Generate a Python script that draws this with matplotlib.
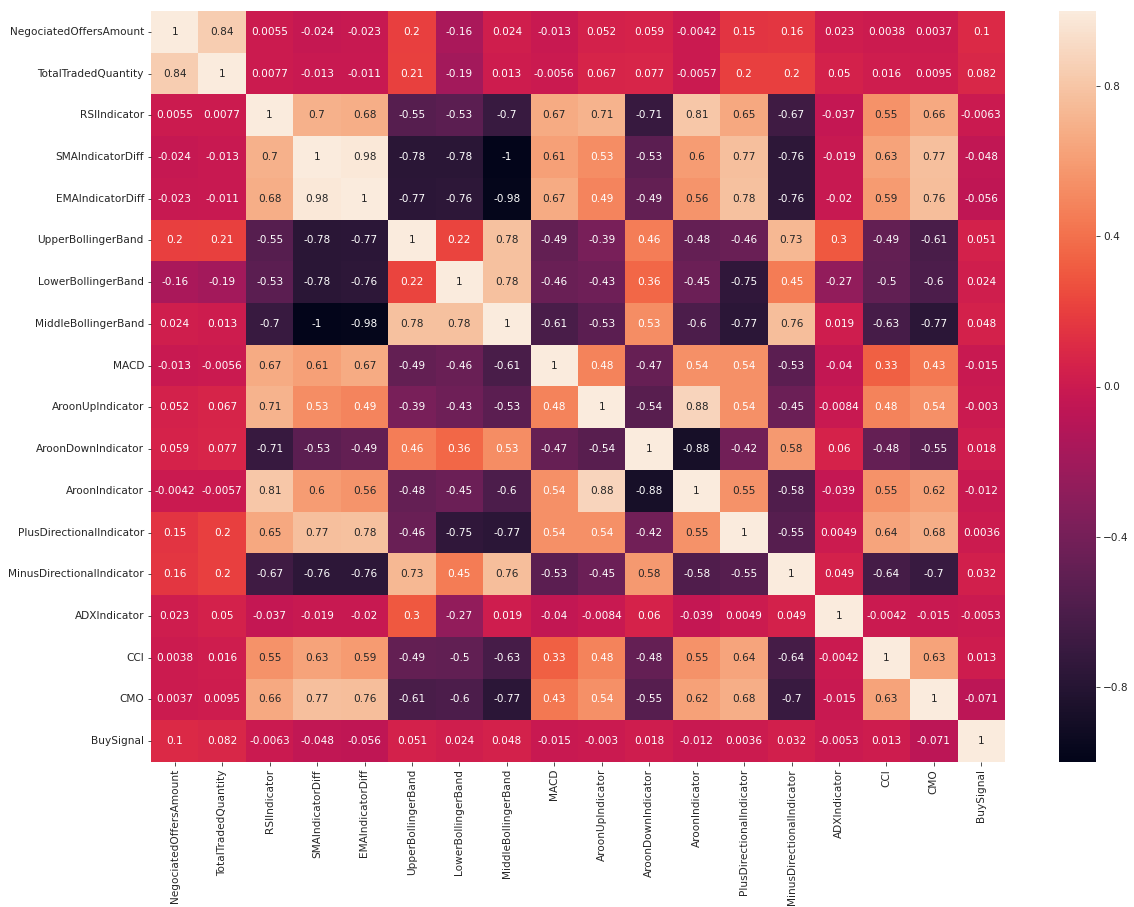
import numpy as np
import pandas as pd
import matplotlib
matplotlib.use("Agg")
import matplotlib.pyplot as plt
import seaborn as sns

features = [
    "NegociatedOffersAmount", "TotalTradedQuantity", "RSIIndicator",
    "SMAIndicatorDiff", "EMAIndicatorDiff", "UpperBollingerBand",
    "LowerBollingerBand", "MiddleBollingerBand", "MACD",
    "AroonUpIndicator", "AroonDownIndicator", "AroonIndicator",
    "PlusDirectionalIndicator", "MinusDirectionalIndicator",
    "ADXIndicator", "CCI", "CMO", "BuySignal",
]

r_negociated = [1, 0.84, 0.0055, -0.024, -0.023, 0.2, -0.16, 0.024, -0.013, 0.052, 0.059, -0.0042, 0.15, 0.16, 0.023, 0.0038, 0.0037, 0.1]
r_traded = [0.84, 1, 0.0077, -0.013, -0.011, 0.21, -0.19, 0.013, -0.0056, 0.067, 0.077, -0.0057, 0.2, 0.2, 0.05, 0.016, 0.0095, 0.082]
r_rsi = [0.0055, 0.0077, 1, 0.7, 0.68, -0.55, -0.53, -0.7, 0.67, 0.71, -0.71, 0.81, 0.65, -0.67, -0.037, 0.55, 0.66, -0.0063]
r_sma = [-0.024, -0.013, 0.7, 1, 0.98, -0.78, -0.78, -1, 0.61, 0.53, -0.53, 0.6, 0.77, -0.76, -0.019, 0.63, 0.77, -0.048]
r_ema = [-0.023, -0.011, 0.68, 0.98, 1, -0.77, -0.76, -0.98, 0.67, 0.49, -0.49, 0.56, 0.78, -0.76, -0.02, 0.59, 0.76, -0.056]
r_upper = [0.2, 0.21, -0.55, -0.78, -0.77, 1, 0.22, 0.78, -0.49, -0.39, 0.46, -0.48, -0.46, 0.73, 0.3, -0.49, -0.61, 0.051]
r_lower = [-0.16, -0.19, -0.53, -0.78, -0.76, 0.22, 1, 0.78, -0.46, -0.43, 0.36, -0.45, -0.75, 0.45, -0.27, -0.5, -0.6, 0.024]
r_middle = [0.024, 0.013, -0.7, -1, -0.98, 0.78, 0.78, 1, -0.61, -0.53, 0.53, -0.6, -0.77, 0.76, 0.019, -0.63, -0.77, 0.048]
r_macd = [-0.013, -0.0056, 0.67, 0.61, 0.67, -0.49, -0.46, -0.61, 1, 0.48, -0.47, 0.54, 0.54, -0.53, -0.04, 0.33, 0.43, -0.015]
r_aroon_up = [0.052, 0.067, 0.71, 0.53, 0.49, -0.39, -0.43, -0.53, 0.48, 1, -0.54, 0.88, 0.54, -0.45, -0.0084, 0.48, 0.54, -0.003]
r_aroon_down = [0.059, 0.077, -0.71, -0.53, -0.49, 0.46, 0.36, 0.53, -0.47, -0.54, 1, -0.88, -0.42, 0.58, 0.06, -0.48, -0.55, 0.018]
r_aroon = [-0.0042, -0.0057, 0.81, 0.6, 0.56, -0.48, -0.45, -0.6, 0.54, 0.88, -0.88, 1, 0.55, -0.58, -0.039, 0.55, 0.62, -0.012]
r_plus_di = [0.15, 0.2, 0.65, 0.77, 0.78, -0.46, -0.75, -0.77, 0.54, 0.54, -0.42, 0.55, 1, -0.55, 0.0049, 0.64, 0.68, 0.0036]
r_minus_di = [0.16, 0.2, -0.67, -0.76, -0.76, 0.73, 0.45, 0.76, -0.53, -0.45, 0.58, -0.58, -0.55, 1, 0.049, -0.64, -0.7, 0.032]
r_adx = [0.023, 0.05, -0.037, -0.019, -0.02, 0.3, -0.27, 0.019, -0.04, -0.0084, 0.06, -0.039, 0.0049, 0.049, 1, -0.0042, -0.015, -0.0053]
r_cci = [0.0038, 0.016, 0.55, 0.63, 0.59, -0.49, -0.5, -0.63, 0.33, 0.48, -0.48, 0.55, 0.64, -0.64, -0.0042, 1, 0.63, 0.013]
r_cmo = [0.0037, 0.0095, 0.66, 0.77, 0.76, -0.61, -0.6, -0.77, 0.43, 0.54, -0.55, 0.62, 0.68, -0.7, -0.015, 0.63, 1, -0.071]
r_buy = [0.1, 0.082, -0.0063, -0.048, -0.056, 0.051, 0.024, 0.048, -0.015, -0.003, 0.018, -0.012, 0.0036, 0.032, -0.0053, 0.013, -0.071, 1]

corr = pd.DataFrame(
    [r_negociated, r_traded, r_rsi, r_sma, r_ema, r_upper, r_lower, r_middle,
     r_macd, r_aroon_up, r_aroon_down, r_aroon, r_plus_di, r_minus_di,
     r_adx, r_cci, r_cmo, r_buy],
    index=features, columns=features,
)

cbar_ticks = [0.8, 0.4, 0.0, -0.4, -0.8]

plt.rcParams["font.family"] = ["DejaVu Sans"]
fs = 10.5

fig = plt.figure(figsize=(1134 / 72, 907 / 72), dpi=72)
ax = fig.add_axes([151 / 1134, 145 / 907, 854 / 1134, 751 / 907])
cax = fig.add_axes([1059 / 1134, 145 / 907, 37 / 1134, 751 / 907])

sns.heatmap(corr, annot=True, ax=ax, cbar_ax=cax,
            annot_kws={"fontsize": fs})

cax.set_yticks(cbar_ticks)
cax.set_yticklabels([f"{t:.1f}".replace("-", "\u2212") for t in cbar_ticks])
cax.tick_params(labelsize=fs, colors="#262626", labelcolor="#262626")

ax.tick_params(labelsize=fs, colors="#262626", labelcolor="#262626")
ax.set_xticklabels(features, rotation=90)
ax.set_yticklabels(features, rotation=0)

fig.savefig("out.png", dpi=72)
